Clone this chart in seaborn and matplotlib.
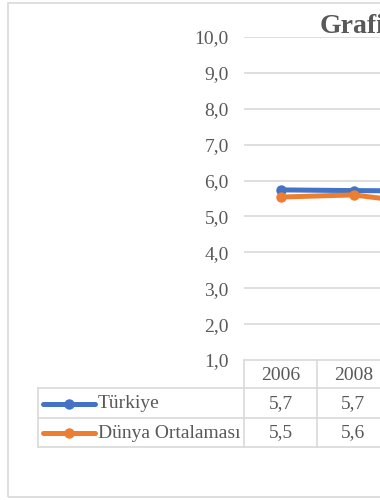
import pandas as pd
import matplotlib
matplotlib.use("Agg")
import matplotlib.pyplot as plt
import seaborn as sns
from matplotlib.lines import Line2D
from matplotlib.patches import Rectangle
from matplotlib.transforms import blended_transform_factory

# Data (third year runs off the right edge of the crop)
years = ["2006", "2008", "2010"]
turkiye = [5.74, 5.72, 5.71]
dunya = [5.54, 5.60, 5.35]
series_names = ["Türkiye", "Dünya Ortalaması"]
colors = ["#4472C4", "#ED7D31"]

df = pd.DataFrame({
    "Yıl": years * 2,
    "Değer": turkiye + dunya,
    "Seri": [series_names[0]] * len(years) + [series_names[1]] * len(years),
})

sns.set_style("white")
plt.rcParams["font.family"] = ["Liberation Serif", "DejaVu Serif"]
txt = "#595959"
grid_c = "#D9D9D9"
fs = 14

W, H = 380, 500
fig = plt.figure(figsize=(3.8, 5.0), dpi=100)

# plot area in pixels: left 244, top 37 (10,0), bottom 360 (1,0), 73 px per year
col_w = 73
ax = fig.add_axes([244 / W, (H - 360) / H, col_w * len(years) / W, (360 - 37) / H])
sns.lineplot(data=df, x="Yıl", y="Değer", hue="Seri", palette=colors,
             marker="o", markersize=7.5, markeredgewidth=0, linewidth=3.6,
             ax=ax, legend=False, sort=False)
ax.set_xlim(-0.5, len(years) - 0.5)
ax.set_ylim(1, 10)
ax.set_yticks(range(1, 11))
ax.set_yticklabels([f"{v},0" for v in range(1, 11)], fontsize=fs, color=txt)
ax.tick_params(axis="y", length=0, pad=11)
for lab in ax.get_yticklabels():
    lab.set_verticalalignment("center_baseline")
ax.set_xticks([])
ax.set_xlabel("")
ax.set_ylabel("")
for v in range(2, 11):
    ax.axhline(v, color=grid_c, linewidth=1.2, zorder=0)
for s in ax.spines.values():
    s.set_visible(False)

# title (cropped on the right)
fig.text(320 / W, (H - 33) / H, "Grafik", fontsize=20, fontweight="bold",
         color=txt, ha="left", va="baseline")

# outer chart border
fig.add_artist(Rectangle((8 / W, 3 / H), 1.2, (497 - 3) / H, transform=fig.transFigure,
                         fill=False, edgecolor=grid_c, linewidth=1.2))

# data table below the axis
def fy(py):
    return (H - py) / H

def hline(x0, x1, py):
    fig.add_artist(Line2D([x0 / W, x1 / W], [fy(py), fy(py)], color=grid_c, linewidth=1.2))

def vline(px, y0, y1):
    fig.add_artist(Line2D([px / W, px / W], [fy(y0), fy(y1)], color=grid_c, linewidth=1.2))

right = 244 + col_w * len(years)
hline(244, right, 360)
hline(38, right, 388)
hline(38, right, 418)
hline(38, right, 447)
vline(38, 388, 447)
for i in range(len(years) + 1):
    vline(244 + col_w * i, 360, 447)

bt = blended_transform_factory(ax.transData, fig.transFigure)
row_y = [375, 404, 433]
for i, yr in enumerate(years):
    # only the columns that fall inside the cropped picture get their text
    if 244 + col_w * (i + 0.5) > W:
        continue
    ax.text(i, fy(row_y[0]), yr, transform=bt, ha="center", va="center",
            fontsize=fs, color=txt, clip_on=False)
    ax.text(i, fy(row_y[1]), f"{turkiye[i]:.1f}".replace(".", ","), transform=bt,
            ha="center", va="center", fontsize=fs, color=txt, clip_on=False)
    ax.text(i, fy(row_y[2]), f"{dunya[i]:.1f}".replace(".", ","), transform=bt,
            ha="center", va="center", fontsize=fs, color=txt, clip_on=False)

# legend keys inside the table
for name, c, py in zip(series_names, colors, row_y[1:]):
    fig.add_artist(Line2D([43 / W, 95 / W], [fy(py), fy(py)], color=c, linewidth=3.6,
                          solid_capstyle="round"))
    fig.add_artist(Line2D([69 / W], [fy(py)], color=c, marker="o", markersize=7.5,
                          markeredgewidth=0))
    fig.text(98 / W, fy(py), name, fontsize=fs, color=txt, ha="left", va="center")

fig.savefig("out.png", dpi=100)
